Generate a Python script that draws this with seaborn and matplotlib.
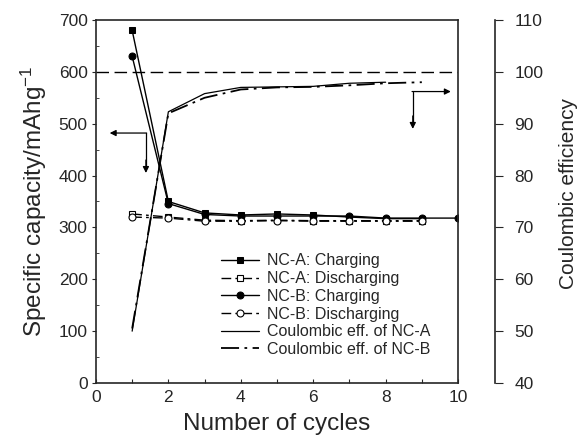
import matplotlib
matplotlib.use("Agg")
import matplotlib.pyplot as plt
import seaborn as sns
import numpy as np

# ---- data ----
cycles_A = [1, 2, 3, 4, 5, 6, 7, 8, 9]
charge_A = [680, 350, 328, 324, 326, 324, 320, 317, 317]
discharge_A = [326, 320, 314, 313, 314, 313, 313, 313, 313]
cycles_B = [1, 2, 3, 4, 5, 6, 7, 8, 9, 10]
charge_B = [630, 346, 325, 322, 322, 322, 322, 318, 318, 318]
cycles_Bd = [1, 2, 3, 4, 5, 6, 7, 8, 9]
discharge_B = [320, 318, 312, 312, 313, 312, 312, 312, 312]
cycles_ceA = [1, 2, 3, 4, 5, 6, 7, 8]
ce_A = [50.0, 92.3, 95.8, 97.0, 97.1, 97.2, 97.8, 98.0]
cycles_ceB = [1, 2, 3, 4, 5, 6, 7, 8, 9]
ce_B = [50.5, 92.0, 95.0, 96.6, 97.0, 97.1, 97.4, 97.8, 98.0]
labels = ["NC-A: Charging", "NC-A: Discharging", "NC-B: Charging",
          "NC-B: Discharging", "Coulombic eff. of NC-A", "Coulombic eff. of NC-B"]

sns.set_style("ticks")
plt.rcParams['font.family'] = ['Liberation Sans', 'DejaVu Sans']
plt.rcParams['mathtext.fontset'] = 'custom'
plt.rcParams['mathtext.rm'] = 'Liberation Sans'
plt.rcParams['mathtext.it'] = 'Liberation Sans'

fig = plt.figure(figsize=(5.85, 4.43), dpi=100)
ax = fig.add_axes([0.164, 0.1354, 0.619, 0.8195])
ax2 = ax.twinx()

dash_d = (0, (7, 3, 2, 3))
dash_ce = (0, (10, 3, 1.5, 3))
ms = 5.0

sns.lineplot(x=cycles_A, y=charge_A, ax=ax, color='black', lw=1.0,
             marker='s', markersize=ms, markeredgecolor='black',
             markerfacecolor='black', label=labels[0], legend=False)
sns.lineplot(x=cycles_A, y=discharge_A, ax=ax, color='black', lw=1.0,
             linestyle=dash_d, marker='s', markersize=ms, markeredgecolor='black',
             markerfacecolor='white', markeredgewidth=0.8, label=labels[1], legend=False)
sns.lineplot(x=cycles_B, y=charge_B, ax=ax, color='black', lw=1.0,
             marker='o', markersize=ms, markeredgecolor='black',
             markerfacecolor='black', label=labels[2], legend=False)
sns.lineplot(x=cycles_Bd, y=discharge_B, ax=ax, color='black', lw=1.0,
             linestyle=dash_d, marker='o', markersize=ms, markeredgecolor='black',
             markerfacecolor='white', markeredgewidth=0.8, label=labels[3], legend=False)

sns.lineplot(x=cycles_ceA, y=ce_A, ax=ax2, color='black', lw=0.9,
             label=labels[4], legend=False)
sns.lineplot(x=cycles_ceB, y=ce_B, ax=ax2, color='black', lw=1.3,
             linestyle=dash_ce, label=labels[5], legend=False)

ax.axhline(600, color='black', lw=1.0, linestyle=(0, (9, 4)))

# arrows
ax.plot([1.38, 1.38], [482, 415], color='black', lw=0.9)
ax.annotate('', xy=(0.38, 482), xytext=(1.40, 482),
            arrowprops=dict(arrowstyle='-|>', color='black', lw=0.9,
                            mutation_scale=9, shrinkA=0, shrinkB=0))
ax.annotate('', xy=(1.38, 405), xytext=(1.38, 430),
            arrowprops=dict(arrowstyle='-|>', color='black', lw=0.9,
                            mutation_scale=9, shrinkA=0, shrinkB=0))
ax.plot([8.75, 8.75], [562, 500], color='black', lw=0.9)
ax.annotate('', xy=(8.75, 490), xytext=(8.75, 515),
            arrowprops=dict(arrowstyle='-|>', color='black', lw=0.9,
                            mutation_scale=9, shrinkA=0, shrinkB=0))
ax.annotate('', xy=(9.8, 562), xytext=(8.73, 562),
            arrowprops=dict(arrowstyle='-|>', color='black', lw=0.9,
                            mutation_scale=9, shrinkA=0, shrinkB=0))

ax.set_xlim(0, 10)
ax.set_ylim(0, 700)
ax2.set_ylim(40, 110)
ax.set_xticks(range(0, 11, 2))
ax.set_xticks(range(1, 10, 2), minor=True)
ax.set_yticks(range(0, 701, 100))
ax.set_yticks(range(50, 700, 100), minor=True)
ax2.set_yticks(range(40, 111, 10))

ax.tick_params(axis='x', which='both', direction='in', length=3, width=0.8,
               labelsize=12.5, pad=5, top=False)
ax.tick_params(axis='y', which='major', direction='out', length=3, width=0.8,
               labelsize=12.5, pad=3)
ax.tick_params(axis='y', which='minor', direction='in', length=2, width=0.6)
ax2.tick_params(axis='y', which='major', direction='out', length=6, width=0.8,
                labelsize=12.5, pad=8)

for s in ax.spines.values():
    s.set_linewidth(1.2)
    s.set_visible(True)
for k in ['top', 'left', 'bottom']:
    ax2.spines[k].set_visible(False)
ax2.spines['right'].set_position(('outward', 26.6))
ax2.spines['right'].set_linewidth(1.2)

ax.set_xlabel("Number of cycles", fontsize=17.5, labelpad=6)
ax.set_ylabel("Specific capacity/mAhg$^{-1}$", fontsize=17.5, labelpad=7)
ax2.set_ylabel("Coulombic efficiency", fontsize=15)
ax2.yaxis.set_label_coords(1.278, 0.523)

h1, l1 = ax.get_legend_handles_labels()
h2, l2 = ax2.get_legend_handles_labels()
leg = ax2.legend(h1 + h2, l1 + l2, loc='upper left', bbox_to_anchor=(0.345, 0.357),
                 frameon=False, fontsize=11.5, handlelength=2.4, handletextpad=0.5,
                 labelspacing=0.17, borderpad=0, borderaxespad=0)

fig.savefig("out.png", dpi=100)
